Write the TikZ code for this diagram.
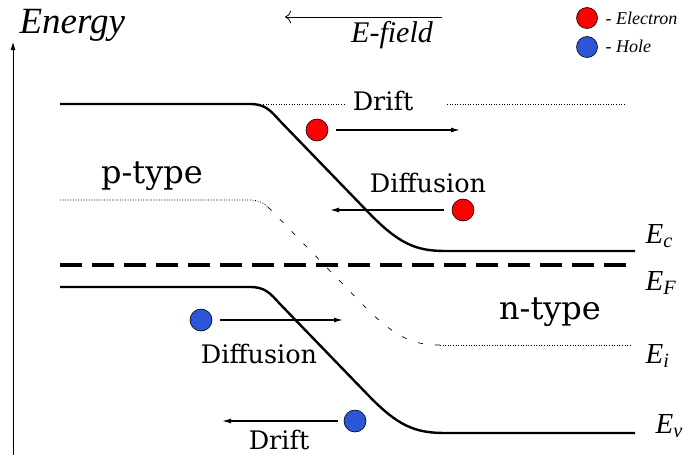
\documentclass[tikz,border=0pt]{standalone}
\usepackage{fontspec}
\setmainfont{Liberation Serif}
\newfontfamily\procfont{DejaVu Serif}
\usetikzlibrary{arrows.meta}

\definecolor{holeblue}{RGB}{45,85,215}
\newcommand{\lvl}[1]{\textit{E}\textsubscript{\textit{#1}}}

\tikzset{
  band/.style={line width=2.4pt},
  fermi/.style={line width=3.5pt, dash pattern=on 22pt off 10pt},
  dotline/.style={line width=0.7pt, dash pattern=on 1pt off 1.6pt},
  carrier/.style={circle, draw=black, line width=0.6pt, inner sep=0pt, minimum size=22pt},
  electron/.style={carrier, fill=red},
  hole/.style={carrier, fill=holeblue},
  move/.style={line width=1.2pt, -{Latex[length=9pt,width=5pt]}},
  proc/.style={font=\procfont\fontsize{25.5}{25.5}\selectfont},
  region/.style={font=\procfont\fontsize{32}{32}\selectfont},
  level/.style={font=\fontsize{29}{29}\selectfont, anchor=west}
}

\begin{document}
\begin{tikzpicture}[x=1pt, y=-1pt]
  \useasboundingbox (0,0) rectangle (692,455);

  % Eje de energia
  \coordinate (axisbot) at (13,455);
  \coordinate (axistop) at (13,42);
  \draw[line width=0.8pt, -{Latex[length=8pt,width=5pt]}] (axisbot) -- (axistop);
  \node[font=\itshape\fontsize{37}{37}\selectfont, anchor=west] (energy) at (16,25) {Energy};

  % Campo electrico
  \coordinate (fieldR) at (442,17);
  \coordinate (fieldL) at (285,17);
  \draw[line width=0.8pt, -{To[length=6pt]}] (fieldR) -- (fieldL);
  \node[font=\itshape\fontsize{30}{30}\selectfont] (efield) at (392,35) {E-field};

  % Leyenda
  \node[electron, minimum size=21pt] (legE) at (587,18) {};
  \node[hole, minimum size=21pt] (legH) at (587,47) {};
  \node[font=\itshape\fontsize{18}{18}\selectfont, anchor=west] at (602,18) {- Electron};
  \node[font=\itshape\fontsize{18}{18}\selectfont, anchor=west] at (602,46) {- Hole};

  % Bandas
  \draw[band] (60,104) -- (250,104) .. controls (265,104) and (270,110) .. (280,121)
    -- (368,212) .. controls (398,243) and (415,251) .. (445,251) -- (635,251);
  \draw[band] (60,287) -- (250,287) .. controls (265,287) and (270,293) .. (280,304)
    -- (368,395) .. controls (398,426) and (415,433) .. (445,433) -- (635,433);
  \draw[fermi] (60,265) -- (635,265);

  % Nivel intrinseco
  \draw[dotline] (60,200) -- (250,200) .. controls (258,200) and (264,203) .. (268,207);
  \draw[line width=0.7pt, dash pattern=on 5pt off 12pt]
    (268,207) -- (368,310) .. controls (398,339) and (415,345) .. (440,345);
  \draw[dotline] (440,345) -- (632,345);
  \draw[dotline] (250,104) -- (345,104);
  \draw[dotline] (447,104) -- (625,104);

  % Electrones
  \node[electron] (e1) at (317,130) {};
  \coordinate (e1end) at (460,130);
  \draw[move] ([xshift=8pt]e1.east) -- (e1end);
  \node[proc] (drift1) at (383,101) {Drift};

  \node[electron] (e2) at (463,210) {};
  \coordinate (e2end) at (330,210);
  \draw[move] ([xshift=-8pt]e2.west) -- (e2end);
  \node[proc] (diff1) at (428,183) {Diffusion};

  % Huecos
  \node[hole] (h1) at (201,320) {};
  \coordinate (h1end) at (343,320);
  \draw[move] ([xshift=8pt]h1.east) -- (h1end);
  \node[proc] (diff2) at (259,354) {Diffusion};

  \node[hole] (h2) at (355,421) {};
  \coordinate (h2end) at (222,421);
  \draw[move] ([xshift=-6pt]h2.west) -- (h2end);
  \node[proc] (drift2) at (279,440) {Drift};

  % Regiones
  \node[region] (ptype) at (152,176) {p-type};
  \node[region] (ntype) at (550,312) {n-type};

  % Niveles
  \node[level] (Ec) at (642,236) {\lvl{c}};
  \node[level] (EF) at (642,283) {\lvl{F}};
  \node[level] (Ei) at (642,356) {\lvl{i}};
  \node[level] (Ev) at (652,426) {\lvl{v}};
\end{tikzpicture}
\end{document}
